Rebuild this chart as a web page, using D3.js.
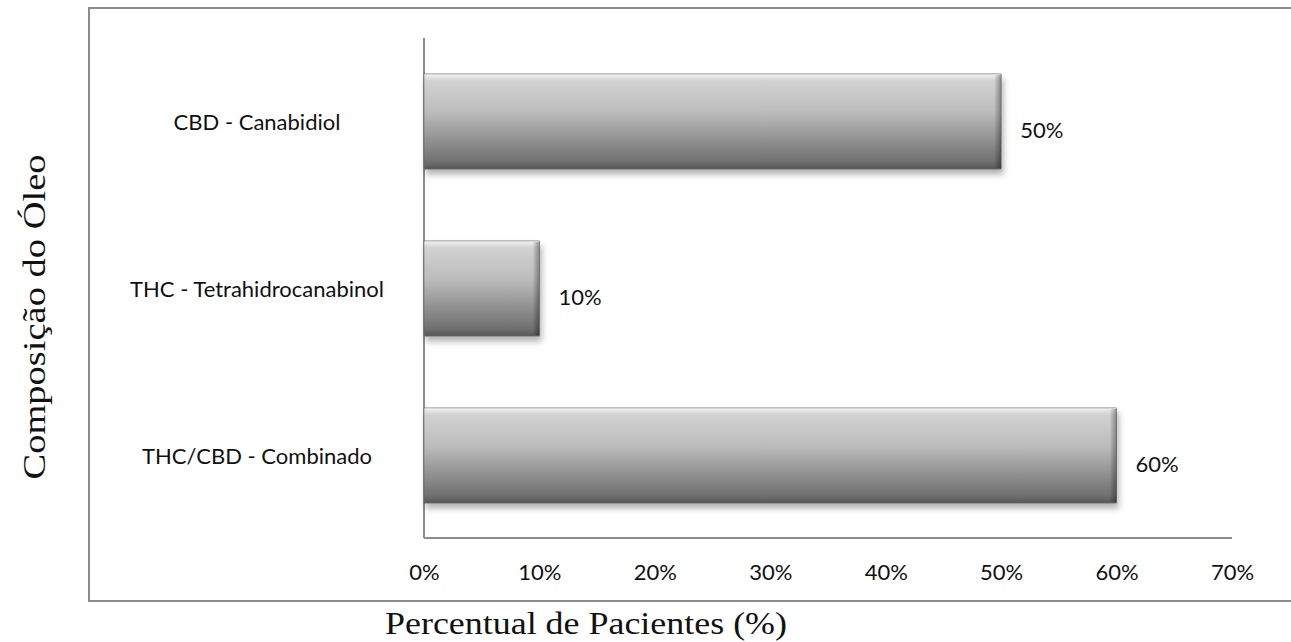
<!DOCTYPE html>
<html>
<head>
<meta charset="utf-8">
<script src="https://cdn.jsdelivr.net/npm/d3@7"></script>
<style>
  body { margin: 0; background: #fff; }
</style>
</head>
<body>
<div id="chart"></div>
<script>
// data
var categories = ["CBD - Canabidiol", "THC - Tetrahidrocanabinol", "THC/CBD - Combinado"];
var values = [50, 10, 60];
var xTicks = [0, 10, 20, 30, 40, 50, 60, 70];

var W = 1291, H = 642;
var margin = {top: 38, right: 58, bottom: 104, left: 424},
    width = W - margin.left - margin.right,
    height = H - margin.top - margin.bottom;

var svg = d3.select("#chart").append("svg")
    .attr("width", W)
    .attr("height", H);

var defs = svg.append("defs");

// bar gradient, light at the top and dark at the bottom
var grad = defs.append("linearGradient")
    .attr("id", "barGrad")
    .attr("x1", 0).attr("y1", 0).attr("x2", 0).attr("y2", 1);
grad.append("stop").attr("offset", "0%").attr("stop-color", "#f4f4f4");
grad.append("stop").attr("offset", "7%").attr("stop-color", "#d2d2d2");
grad.append("stop").attr("offset", "40%").attr("stop-color", "#bcbcbc");
grad.append("stop").attr("offset", "92%").attr("stop-color", "#707070");
grad.append("stop").attr("offset", "100%").attr("stop-color", "#575757");

var rightGrad = defs.append("linearGradient")
    .attr("id", "rightGrad")
    .attr("x1", 0).attr("y1", 0).attr("x2", 1).attr("y2", 0);
rightGrad.append("stop").attr("offset", "0%").attr("stop-color", "#000").attr("stop-opacity", 0);
rightGrad.append("stop").attr("offset", "100%").attr("stop-color", "#000").attr("stop-opacity", 0.35);

var shadow = defs.append("filter")
    .attr("id", "shadow")
    .attr("x", "-5%").attr("y", "-20%").attr("width", "115%").attr("height", "150%");
shadow.append("feDropShadow")
    .attr("dx", 2).attr("dy", 5).attr("stdDeviation", 3)
    .attr("flood-color", "#000").attr("flood-opacity", 0.3);

// outer frame (the right edge runs off the picture)
svg.append("path")
    .attr("d", "M" + (W + 5) + ",8 H89 V601 H" + (W + 5))
    .attr("fill", "none")
    .attr("stroke", "#8c8c8c")
    .attr("stroke-width", 2);

var g = svg.append("g")
    .attr("transform", "translate(" + margin.left + "," + margin.top + ")");

var x = d3.scaleLinear()
    .domain([0, 70])
    .range([0, 808]);

var y = d3.scaleBand()
    .domain(categories)
    .range([0, height + 1])
    .paddingInner(0.43)
    .paddingOuter(0.215);

// x axis
var xAxis = g.append("g")
    .attr("transform", "translate(0," + height + ")")
    .call(d3.axisBottom(x).tickValues(xTicks).tickSize(0).tickPadding(26)
        .tickFormat(function(d) { return d + "%"; }));
xAxis.select(".domain").attr("stroke", "#8c8c8c").attr("stroke-width", 2)
    .attr("d", "M0,0H808");
xAxis.selectAll("text")
    .attr("font-family", "Lato, 'Open Sans', sans-serif")
    .attr("font-size", 22)
    .attr("fill", "#111");

// y axis
var yAxis = g.append("g")
    .call(d3.axisLeft(y).tickSize(0).tickPadding(0).tickFormat(""));
yAxis.select(".domain").attr("stroke", "#8c8c8c").attr("stroke-width", 2)
    .attr("d", "M0,0V" + height);

// category labels
g.selectAll(".cat")
    .data(categories)
    .enter().append("text")
    .attr("class", "cat")
    .attr("x", -167)
    .attr("y", function(d) { return y(d) + y.bandwidth() / 2 + 8; })
    .attr("text-anchor", "middle")
    .attr("font-family", "Lato, 'Open Sans', sans-serif")
    .attr("font-size", 22)
    .attr("fill", "#111")
    .text(function(d) { return d; });

// bars
var bars = g.selectAll(".bar")
    .data(values)
    .enter().append("g")
    .attr("class", "bar");

bars.append("rect")
    .attr("x", 0)
    .attr("y", function(d, i) { return y(categories[i]); })
    .attr("width", function(d) { return x(d); })
    .attr("height", y.bandwidth())
    .attr("fill", "url(#barGrad)")
    .attr("stroke", "#666")
    .attr("stroke-width", 0.6)
    .attr("filter", "url(#shadow)");

// bevel on the right end
bars.append("rect")
    .attr("x", function(d) { return x(d) - 7; })
    .attr("y", function(d, i) { return y(categories[i]) + 1; })
    .attr("width", 7)
    .attr("height", y.bandwidth() - 2)
    .attr("fill", "url(#rightGrad)");

// value labels
bars.append("text")
    .attr("x", function(d) { return x(d) + 19; })
    .attr("y", function(d, i) { return y(categories[i]) + y.bandwidth() / 2 + 16; })
    .attr("font-family", "Lato, 'Open Sans', sans-serif")
    .attr("font-size", 22)
    .attr("fill", "#111")
    .text(function(d) { return d + "%"; });

// axis titles
svg.append("text")
    .attr("transform", "translate(45,317) rotate(-90)")
    .attr("text-anchor", "middle")
    .attr("font-family", "'Liberation Serif', 'Times New Roman', serif")
    .attr("font-size", 31)
    .attr("textLength", 325)
    .attr("lengthAdjust", "spacingAndGlyphs")
    .attr("fill", "#111")
    .text("Composição do Óleo");

svg.append("text")
    .attr("x", 586)
    .attr("y", 634)
    .attr("text-anchor", "middle")
    .attr("font-family", "'Liberation Serif', 'Times New Roman', serif")
    .attr("font-size", 31)
    .attr("textLength", 402)
    .attr("lengthAdjust", "spacingAndGlyphs")
    .attr("fill", "#111")
    .text("Percentual de Pacientes (%)");
</script>
</body>
</html>
